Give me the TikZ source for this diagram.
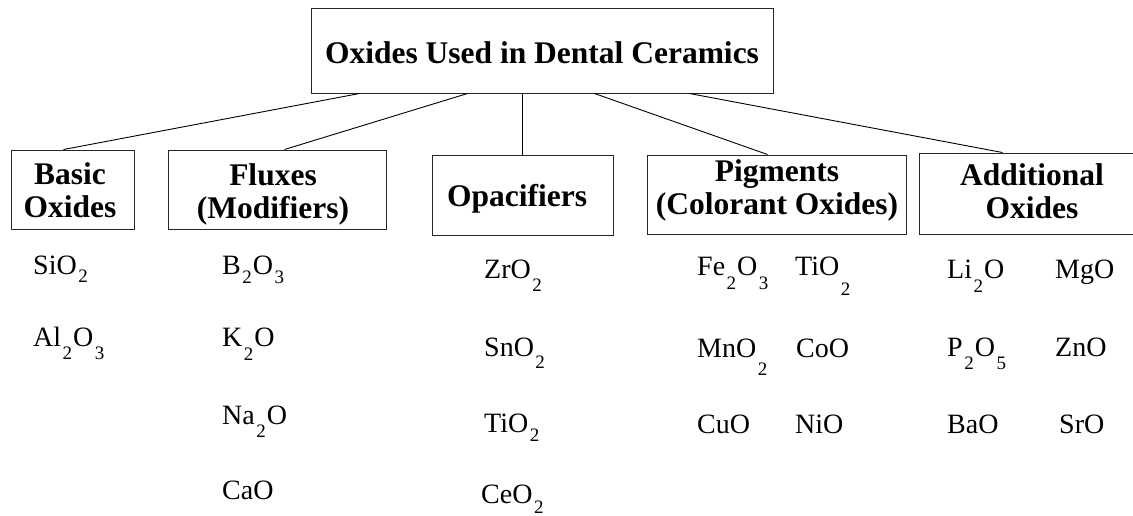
\documentclass[tikz,border=0pt]{standalone}
\usepackage{fontspec}
\setmainfont{Liberation Serif}
\newcommand{\sbs}[2][12]{\kern1.5pt\raisebox{-#1pt}{\fontsize{19}{19}\selectfont #2}\kern1pt}
\tikzset{
  box/.style={draw=black!85, line width=1pt, inner sep=0pt, rectangle},
  hd/.style={font=\fontsize{31.5}{33}\selectfont\bfseries, align=center, inner sep=0pt},
  ox/.style={font=\fontsize{28}{30}\selectfont, anchor=base west, inner sep=0pt},
  link/.style={draw=black, line width=0.9pt}
}
\begin{document}
\begin{tikzpicture}[x=1pt,y=-1pt]
\useasboundingbox (0,0) rectangle (1133,515);
\clip (0,0) rectangle (1133,515);
% boxes
\node[box, minimum width=462, minimum height=85, hd, text height=25pt, text depth=0pt] (top) at (542,50.5) {Oxides Used in Dental Ceramics};
\node[box, minimum width=123, minimum height=79] (basic) at (72.5,189.5) {};
\node[box, minimum width=218, minimum height=79] (fluxes) at (277,189.5) {};
\node[box, minimum width=181, minimum height=80] (opac) at (522.5,195) {};
\node[box, minimum width=259, minimum height=79] (pig) at (776.5,194.5) {};
\node[box, minimum width=226, minimum height=81] (add) at (1032,193.5) {};
% box labels
\node[hd, anchor=north] (basicL) at (70,160.9) {\strut Basic\\\strut Oxides};
\node[hd, anchor=north] (fluxL) at (273,161.9) {\strut Fluxes\\\strut (Modifiers)};
\node[hd, anchor=north] (opacL) at (517,182.9) {\strut Opacifiers};
\node[hd, anchor=north] (pigL) at (777,157.9) {\strut Pigments\\\strut (Colorant Oxides)};
\node[hd, anchor=north] (addL) at (1032,161.9) {\strut Additional\\\strut Oxides};
% connectors
\draw[link] ([xshift=49pt]top.south west) -- ([xshift=53pt]basic.north west);
\draw[link] ([xshift=157pt]top.south west) -- ([xshift=117pt]fluxes.north west);
\draw[link] (opac.north |- top.south) -- (opac.north);
\draw[link] ([xshift=284pt]top.south west) -- ([xshift=121pt]pig.north west);
\draw[link] ([xshift=379pt]top.south west) -- ([xshift=84pt]add.north west);
% basic oxides
\node[ox] (si) at (33,274) {SiO\sbs[8]{2}};
\node[ox] (al) at (33,346) {Al\sbs[13]{2}O\sbs[13]{3}};
% fluxes
\node[ox] (b) at (222,274) {B\sbs[9]{2}O\sbs[9]{3}};
\node[ox] (k) at (222,346) {K\sbs[14]{2}O};
\node[ox] (na) at (222,424) {Na\sbs[13]{2}O};
\node[ox] (ca) at (222,499) {CaO};
% opacifiers
\node[ox] (zr) at (484,278) {ZrO\sbs[13]{2}};
\node[ox] (sn) at (484,356) {SnO\sbs[12]{2}};
\node[ox] (ti) at (484,432) {TiO\sbs[9]{2}};
\node[ox] (ce) at (481,503) {CeO\sbs[10]{2}};
% pigments
\node[ox] (fe) at (697,275) {Fe\sbs[14]{2}O\sbs[14]{3}};
\node[ox] (tip) at (795,275) {TiO\sbs[20]{2}};
\node[ox] (mn) at (697,357) {MnO\sbs[18]{2}};
\node[ox] (co) at (796,357) {CoO};
\node[ox] (cu) at (697,433) {CuO};
\node[ox] (ni) at (795,433) {NiO};
% additional
\node[ox] (li) at (947,278) {Li\sbs[14]{2}O};
\node[ox] (mg) at (1055,278) {MgO};
\node[ox] (p) at (947,356) {P\sbs[13]{2}O\sbs[13]{5}};
\node[ox] (zn) at (1055,356) {ZnO};
\node[ox] (ba) at (947,433) {BaO};
\node[ox] (sr) at (1059,433) {SrO};
\end{tikzpicture}
\end{document}
